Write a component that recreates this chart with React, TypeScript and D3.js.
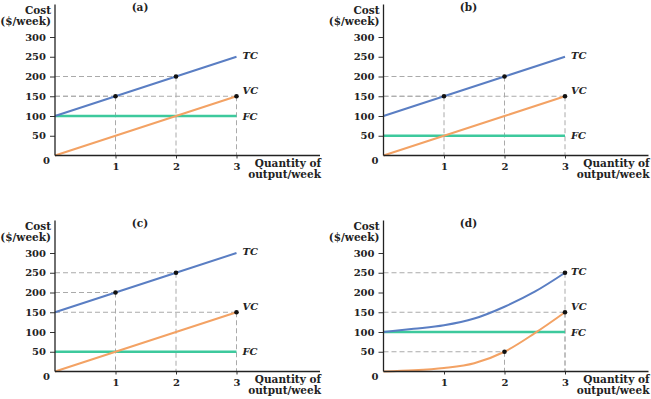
import React, { useEffect, useRef } from 'react';
import * as d3 from 'd3';

// quantities of output per week
const quantities = [0, 1, 2, 3];
const panelNames = ['(a)', '(b)', '(c)', '(d)'];

// straight-line panels (a)-(c)
const tcA = [100, 150, 200, 250];
const vcA = [0, 50, 100, 150];
const fcA = 100;

const tcB = [100, 150, 200, 250];
const vcB = [0, 50, 100, 150];
const fcB = 50;

const tcC = [150, 200, 250, 300];
const vcC = [0, 50, 100, 150];
const fcC = 50;

// panel (d) curves, read at half units
const quantitiesD = [0, 0.5, 1, 1.5, 2, 2.5, 3];
const tcD = [100, 108, 117, 134, 164, 202, 250];
const vcD = [0, 3, 9, 21, 50, 97, 150];
const fcD = 100;

// highlighted points [quantity, cost]
const dotsA = [[1, 150], [2, 200], [3, 150]];
const dotsB = [[1, 150], [2, 200], [3, 150]];
const dotsC = [[1, 200], [2, 250], [3, 150]];
const dotsD = [[3, 250], [3, 150], [2, 50]];

const yTicks = [50, 100, 150, 200, 250, 300];
const xTicks = [1, 2, 3];

const panels = [
  { name: panelNames[0], q: quantities, tc: tcA, vc: vcA, fc: fcA, dots: dotsA },
  { name: panelNames[1], q: quantities, tc: tcB, vc: vcB, fc: fcB, dots: dotsB },
  { name: panelNames[2], q: quantities, tc: tcC, vc: vcC, fc: fcC, dots: dotsC },
  { name: panelNames[3], q: quantitiesD, tc: tcD, vc: vcD, fc: fcD, dots: dotsD },
];

const width = 651;
const height = 399;
const origins = [[55, 155.5], [383.5, 155.5], [55, 371.5], [383.5, 371.5]];

const serif = '"DejaVu Serif", serif';
const blue = '#5a7ec3';
const orange = '#f3a264';
const green = '#3dc99d';
const grey = '#aaaaaa';

const App = () => {
  const svgRef = useRef<SVGSVGElement>(null);

  useEffect(() => {
    const svg = d3.select(svgRef.current);
    svg.selectAll('*').remove();

    panels.forEach((p, i) => {
      const [ox, oy] = origins[i];
      const x = d3.scaleLinear().domain([0, 3]).range([ox, ox + 181.5]);
      const y = d3.scaleLinear().domain([0, 300]).range([oy, oy - 118.5]);
      const g = svg.append('g');

      // dashed guides
      p.dots.forEach(([dq, dv]) => {
        g.append('line')
          .attr('x1', x(0)).attr('x2', x(dq))
          .attr('y1', y(dv)).attr('y2', y(dv))
          .attr('stroke', grey).attr('stroke-width', 1)
          .attr('stroke-dasharray', '5,3');
        g.append('line')
          .attr('x1', x(dq)).attr('x2', x(dq))
          .attr('y1', y(dv)).attr('y2', y(0))
          .attr('stroke', grey).attr('stroke-width', 1)
          .attr('stroke-dasharray', '5,3');
      });

      const curve = i === 3 ? d3.curveMonotoneX : d3.curveLinear;
      const line = d3.line<number>()
        .x((_, j) => x(p.q[j]))
        .y(d => y(d))
        .curve(curve);

      g.append('line')
        .attr('x1', x(0)).attr('x2', x(3))
        .attr('y1', y(p.fc)).attr('y2', y(p.fc))
        .attr('stroke', green).attr('stroke-width', 2.5);

      g.append('path').datum(p.vc)
        .attr('d', line).attr('fill', 'none')
        .attr('stroke', orange).attr('stroke-width', 2);

      g.append('path').datum(p.tc)
        .attr('d', line).attr('fill', 'none')
        .attr('stroke', blue).attr('stroke-width', 2);

      g.selectAll('circle.dot')
        .data(p.dots)
        .enter()
        .append('circle')
        .attr('cx', d => x(d[0]))
        .attr('cy', d => y(d[1]))
        .attr('r', 2.3)
        .attr('fill', '#111');

      // axes
      const yAxis = g.append('g')
        .attr('transform', `translate(${ox}, 0)`)
        .call(d3.axisLeft(y).tickValues(yTicks).tickSize(5).tickSizeOuter(0).tickPadding(4));
      const xAxis = g.append('g')
        .attr('transform', `translate(0, ${oy})`)
        .call(d3.axisBottom(x).tickValues(xTicks).tickFormat(d3.format('d')).tickSize(3).tickSizeOuter(0).tickPadding(4));
      [yAxis, xAxis].forEach(a => {
        a.select('.domain').remove();
        a.selectAll('text')
          .attr('font-family', serif)
          .attr('font-size', 10)
          .attr('font-weight', 'bold')
          .attr('fill', '#222');
        a.selectAll('line').attr('stroke', '#333');
      });

      g.append('line')
        .attr('x1', ox).attr('x2', ox)
        .attr('y1', oy).attr('y2', oy - 151)
        .attr('stroke', '#222').attr('stroke-width', 1.3);
      g.append('line')
        .attr('x1', ox).attr('x2', ox + 265)
        .attr('y1', oy).attr('y2', oy)
        .attr('stroke', '#222').attr('stroke-width', 1.3);

      const text = (tx: number, ty: number, s: string, anchor: string, size: number, italic = false) =>
        g.append('text')
          .attr('x', tx).attr('y', ty)
          .attr('text-anchor', anchor)
          .attr('font-family', serif)
          .attr('font-size', size)
          .attr('font-weight', 'bold')
          .attr('font-style', italic ? 'italic' : 'normal')
          .attr('fill', '#222')
          .text(s);

      text(ox - 5, oy + 8, '0', 'end', 10);
      text(ox + 85, oy - 144.5, p.name, 'middle', 10.5);
      text(ox - 4, oy - 141.5, 'Cost', 'end', 10.5);
      text(ox - 4, oy - 130.5, '($/week)', 'end', 10.5);
      text(ox + 266, oy + 11.5, 'Quantity of', 'end', 10.5);
      text(ox + 266, oy + 22.5, 'output/week', 'end', 10.5);

      const lastTc = p.tc[p.tc.length - 1];
      const lastVc = p.vc[p.vc.length - 1];
      text(x(3) + 6, y(lastTc) + 2, 'TC', 'start', 10, true);
      text(x(3) + 6, y(lastVc) - 2, 'VC', 'start', 10, true);
      text(x(3) + 6, y(p.fc) + 3.5, 'FC', 'start', 10, true);
    });
  }, []);

  return (
    <svg ref={svgRef} width={width} height={height}
      style={{ position: 'absolute', left: 0, top: 0, background: '#fff' }} />
  );
};

export default App;
